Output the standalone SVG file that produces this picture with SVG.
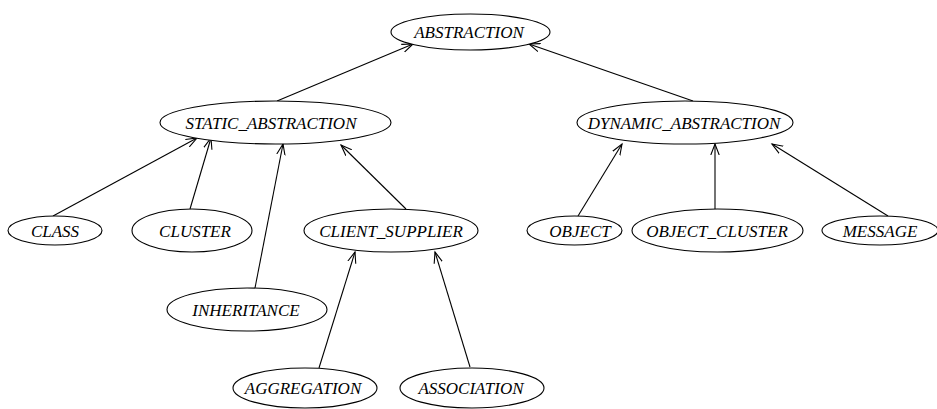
<svg xmlns="http://www.w3.org/2000/svg" width="937" height="409" viewBox="0 0 937 409">
  <style>
    .node ellipse { fill: #ffffff; stroke: #000000; stroke-width: 1.1; }
    .node text { font-family: "Liberation Serif", "Times New Roman", serif; font-style: italic; font-size: 17px; fill: #000000; text-anchor: middle; }
    .edges line { stroke: #000000; stroke-width: 1.1; fill: none; marker-end: url(#open); }
  </style>
  <defs>
    <marker id="open" markerUnits="userSpaceOnUse" markerWidth="14" markerHeight="12" refX="11" refY="5" orient="auto">
      <path d="M0,0.8 L11,5 L0,9.2" fill="none" stroke="#000000" stroke-width="1.1"/>
    </marker>
  </defs>
  <rect width="937" height="409" fill="#ffffff"/>

  <g class="edges">
    <line x1="277" y1="101" x2="413" y2="44"/>
    <line x1="693" y1="101" x2="529" y2="44"/>
    <line x1="53" y1="216" x2="197" y2="138"/>
    <line x1="190" y1="209" x2="211" y2="138"/>
    <line x1="255" y1="288" x2="283" y2="144"/>
    <line x1="406" y1="209" x2="341" y2="145"/>
    <line x1="578" y1="216" x2="622" y2="144"/>
    <line x1="715" y1="209" x2="715" y2="144"/>
    <line x1="888" y1="216" x2="772" y2="144"/>
    <line x1="319" y1="368" x2="355" y2="252"/>
    <line x1="470" y1="367" x2="435" y2="252"/>
  </g>

  <g id="abstraction" class="node">
    <ellipse cx="470.5" cy="32" rx="79.5" ry="18"/>
    <text x="469" y="38">ABSTRACTION</text>
  </g>
  <g id="static_abstraction" class="node">
    <ellipse cx="275.5" cy="122.5" rx="115.5" ry="21.5"/>
    <text x="271" y="129">STATIC_ABSTRACTION</text>
  </g>
  <g id="dynamic_abstraction" class="node">
    <ellipse cx="685" cy="122.5" rx="108" ry="21.5"/>
    <text x="684" y="129">DYNAMIC_ABSTRACTION</text>
  </g>
  <g id="class" class="node">
    <ellipse cx="55" cy="230.5" rx="47" ry="14.5"/>
    <text x="55" y="237">CLASS</text>
  </g>
  <g id="cluster" class="node">
    <ellipse cx="192" cy="230.5" rx="60" ry="21.5"/>
    <text x="195" y="237">CLUSTER</text>
  </g>
  <g id="client_supplier" class="node">
    <ellipse cx="391" cy="230.5" rx="87" ry="21.5"/>
    <text x="391" y="237">CLIENT_SUPPLIER</text>
  </g>
  <g id="object" class="node">
    <ellipse cx="574.5" cy="230.5" rx="47.5" ry="14.5"/>
    <text x="580" y="237">OBJECT</text>
  </g>
  <g id="object_cluster" class="node">
    <ellipse cx="717.5" cy="230.5" rx="85.5" ry="21.5"/>
    <text x="717" y="237">OBJECT_CLUSTER</text>
  </g>
  <g id="message" class="node">
    <ellipse cx="880" cy="230.5" rx="58" ry="14.5"/>
    <text x="880" y="237">MESSAGE</text>
  </g>
  <g id="inheritance" class="node">
    <ellipse cx="247" cy="309.5" rx="80" ry="21.5"/>
    <text x="246" y="316">INHERITANCE</text>
  </g>
  <g id="aggregation" class="node">
    <ellipse cx="305" cy="388" rx="72" ry="20"/>
    <text x="303" y="394">AGGREGATION</text>
  </g>
  <g id="association" class="node">
    <ellipse cx="472" cy="388" rx="72" ry="20"/>
    <text x="471" y="394">ASSOCIATION</text>
  </g>
</svg>
